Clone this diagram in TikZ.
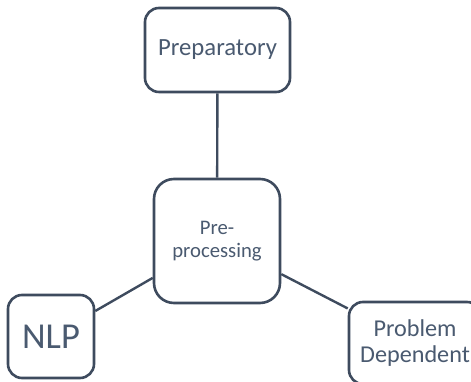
\documentclass[tikz,border=0pt]{standalone}
\usepackage{fontspec}
\setmainfont{Carlito}
\definecolor{boxline}{HTML}{3E4B5E}
\definecolor{textcol}{HTML}{4A5A70}
\begin{document}
\begin{tikzpicture}[x=1pt,y=1pt,
  box/.style={draw=boxline, line width=2.6pt, fill=white, text=textcol, align=center, inner sep=0pt},
  link/.style={draw=boxline, line width=2.4pt}]
\useasboundingbox (0,0) rectangle (471,382);
\clip (0,0) rectangle (471,382);
\node[box, rounded corners=14pt, minimum width=145pt, minimum height=84pt, font=\fontsize{24.7}{28}\selectfont] (prep) at (217.5,332) {Preparatory};
\node[box, rounded corners=20pt, minimum width=126pt, minimum height=124pt, font=\fontsize{20.7}{23.5}\selectfont] (pre) at (217,141) {Pre-\\processing};
\node[box, rounded corners=14pt, minimum width=86pt, minimum height=83pt, font=\fontsize{36.5}{40}\selectfont] (nlp) at (51,45.5) {NLP};
\node[box, rounded corners=14pt, minimum width=132pt, minimum height=82pt, font=\fontsize{24.2}{25.5}\selectfont] (prob) at (415,39) {Problem\\Dependent};
\draw[link] (prep) -- (pre);
\draw[link] (nlp) -- (pre);
\draw[link] (pre) -- (prob);
\end{tikzpicture}
\end{document}
